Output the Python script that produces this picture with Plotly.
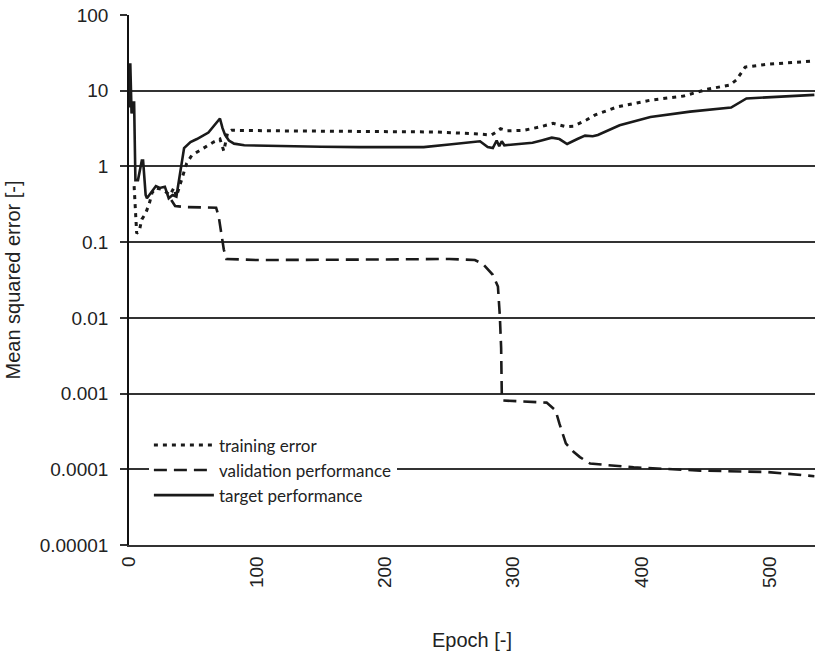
import plotly.graph_objects as go

# ---------------- data ----------------
target_epoch = [0, 1, 2, 3, 4, 5, 7, 8, 10, 11, 13, 14, 17, 21, 24, 28, 31, 34, 37, 40, 43, 48, 53, 62, 67, 71,
                73, 75, 78, 82, 90, 120, 150, 180, 200, 230, 250, 274, 280, 284, 287, 289, 291, 293, 300, 315,
                322, 330, 336, 342, 350, 356, 362, 366, 383, 395, 407, 438, 470, 482, 500, 535]
target_mse = [6, 23, 5, 7, 7, 0.66, 0.66, 0.8, 1.2, 1.2, 0.42, 0.38, 0.45, 0.55, 0.52, 0.54, 0.38, 0.42, 0.40,
              0.8, 1.75, 2.1, 2.3, 2.8, 3.5, 4.3, 3.2, 2.6, 2.2, 2.0, 1.9, 1.85, 1.82, 1.8, 1.8, 1.8, 1.95, 2.15,
              1.8, 1.75, 2.2, 1.85, 2.15, 1.9, 1.95, 2.05, 2.2, 2.4, 2.3, 1.98, 2.3, 2.55, 2.5, 2.6, 3.5, 4.0,
              4.5, 5.3, 6.0, 7.9, 8.2, 8.8]

train_epoch = [4, 5, 6, 8, 10, 13, 16, 18, 21, 25, 28, 32, 35, 37, 41, 45, 49, 59, 66, 71, 74, 77, 80, 120,
               200, 240, 270, 283, 286, 290, 295, 308, 320, 331, 341, 347, 357, 364, 381, 407, 433, 451, 469,
               474, 481, 498, 535]
train_mse = [0.55, 0.2, 0.13, 0.14, 0.2, 0.24, 0.33, 0.45, 0.52, 0.5, 0.47, 0.42, 0.52, 0.4, 0.66, 1.1, 1.4,
             1.8, 2.1, 2.3, 1.6, 2.8, 3.0, 2.95, 2.9, 2.85, 2.7, 2.6, 2.8, 3.15, 2.95, 3.0, 3.3, 3.7, 3.35, 3.4,
             4.1, 4.8, 6.1, 7.5, 8.5, 10.4, 11.9, 13.8, 20.5, 22.3, 24.7]

valid_epoch = [33, 36, 45, 68, 70, 72, 74, 76, 100, 200, 250, 270, 276, 284, 288, 289.5, 290.5, 291, 292, 326,
               333, 336, 341, 347, 352, 360, 378, 394, 446, 498, 535]
valid_mse = [0.36, 0.30, 0.29, 0.285, 0.22, 0.13, 0.08, 0.06, 0.058, 0.059, 0.06, 0.058, 0.052, 0.037, 0.026,
             0.0104, 0.004, 0.001, 0.00081, 0.00076, 0.0006, 0.0004, 0.00022, 0.00017, 0.000145, 0.000119,
             0.000112, 0.000106, 0.000096, 0.000092, 0.000081]

x_ticks = [0, 100, 200, 300, 400, 500]
y_tickvals = [1e-5, 1e-4, 1e-3, 1e-2, 1e-1, 1, 10, 100]
y_ticktext = ["0.00001", "0.0001", "0.001", "0.01", "0.1", "1", "10", "100"]

# ---------------- figure ----------------
INK = "#1a1a1a"
GRID = "#333333"
TICKFONT = dict(family="Arial, 'Liberation Sans', sans-serif", size=19, color="#222222")
TITLEFONT = dict(family="Arial, 'Liberation Sans', sans-serif", size=20, color="#222222")

fig = go.Figure()
fig.add_trace(go.Scatter(x=train_epoch, y=train_mse, mode="lines", name="training error",
                         line=dict(color=INK, width=3, dash="4px,5px")))
fig.add_trace(go.Scatter(x=valid_epoch, y=valid_mse, mode="lines", name="validation performance",
                         line=dict(color=INK, width=2.6, dash="13px,7px")))
fig.add_trace(go.Scatter(x=target_epoch, y=target_mse, mode="lines", name="target performance",
                         line=dict(color=INK, width=2.6)))

fig.update_layout(
    width=815, height=657,
    margin=dict(l=129, r=0, t=15, b=112),
    paper_bgcolor="white", plot_bgcolor="white",
    showlegend=True,
    legend=dict(x=0.029, y=0.222, xanchor="left", yanchor="top",
                bgcolor="white", borderwidth=0,
                font=dict(family="Lato, 'Open Sans', sans-serif", size=17, color="#222222"),
                itemwidth=60, tracegroupgap=0),
    font=TICKFONT,
)
fig.update_xaxes(range=[0, 535.5], tickvals=x_ticks, tickangle=-90, showgrid=False, zeroline=False,
                 showline=True, linecolor=GRID, linewidth=1.5, ticks="", tickfont=TICKFONT,
                 ticklabelstandoff=2,
                 title=dict(text="Epoch [-]", font=TITLEFONT, standoff=46))
fig.update_yaxes(type="log", range=[-5, 2], tickvals=y_tickvals, ticktext=y_ticktext,
                 showgrid=True, gridcolor=GRID, gridwidth=1.5, zeroline=False,
                 showline=True, linecolor="#111111", linewidth=1.6,
                 ticks="outside", ticklen=7, tickwidth=1.5, tickcolor=GRID,
                 ticklabelstandoff=8, tickfont=TICKFONT,
                 title=dict(text="Mean squared error [-]", font=TITLEFONT, standoff=14))

fig.write_html("out.html")
